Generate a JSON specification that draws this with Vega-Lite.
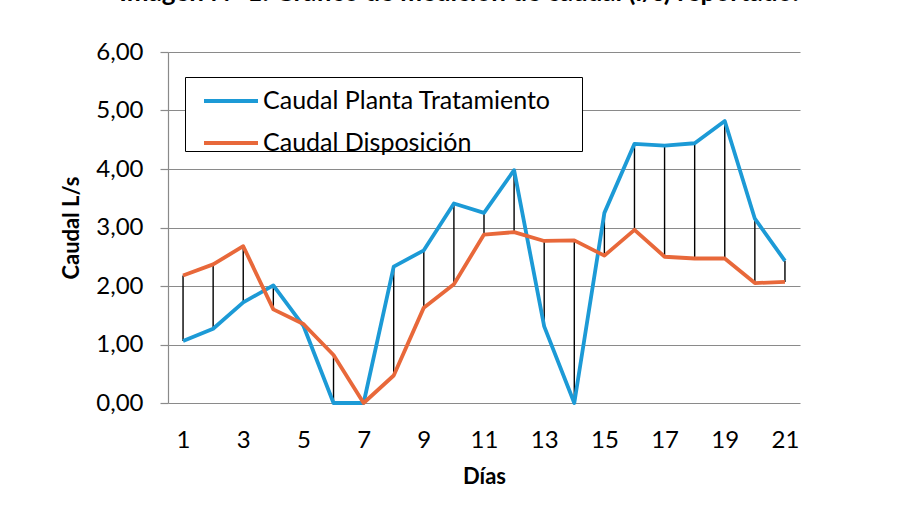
{
  "$schema": "https://vega.github.io/schema/vega-lite/v6.json",
  "width": 632,
  "height": 351,
  "autosize": {"type": "none"},
  "padding": {"left": 168, "top": 52, "right": 98, "bottom": 111},
  "background": "white",
  "title": {
    "text": "Imagen N° 1. Gráfico de medición de caudal (l/s) reportado.",
    "font": "Lato",
    "fontSize": 26,
    "fontWeight": "bold",
    "color": "black",
    "baseline": "alphabetic",
    "offset": 13,
    "dx": -25,
    "anchor": "middle"
  },
  "data": {
    "values": [
      {"dia": 1, "planta": 1.06, "disposicion": 2.18},
      {"dia": 2, "planta": 1.27, "disposicion": 2.37},
      {"dia": 3, "planta": 1.72, "disposicion": 2.68},
      {"dia": 4, "planta": 2.01, "disposicion": 1.6},
      {"dia": 5, "planta": 1.32, "disposicion": 1.35},
      {"dia": 6, "planta": 0, "disposicion": 0.82},
      {"dia": 7, "planta": 0, "disposicion": 0},
      {"dia": 8, "planta": 2.33, "disposicion": 0.47},
      {"dia": 9, "planta": 2.61, "disposicion": 1.63},
      {"dia": 10, "planta": 3.41, "disposicion": 2.03},
      {"dia": 11, "planta": 3.25, "disposicion": 2.88},
      {"dia": 12, "planta": 3.98, "disposicion": 2.92},
      {"dia": 13, "planta": 1.31, "disposicion": 2.77},
      {"dia": 14, "planta": 0, "disposicion": 2.78},
      {"dia": 15, "planta": 3.25, "disposicion": 2.52},
      {"dia": 16, "planta": 4.43, "disposicion": 2.96},
      {"dia": 17, "planta": 4.4, "disposicion": 2.5},
      {"dia": 18, "planta": 4.44, "disposicion": 2.47},
      {"dia": 19, "planta": 4.82, "disposicion": 2.47},
      {"dia": 20, "planta": 3.15, "disposicion": 2.05},
      {"dia": 21, "planta": 2.43, "disposicion": 2.07}
    ]
  },
  "encoding": {
    "x": {
      "field": "dia",
      "type": "quantitative",
      "scale": {"domain": [0.5, 21.5], "nice": false, "zero": false},
      "axis": {
        "title": "Días",
        "values": [1, 3, 5, 7, 9, 11, 13, 15, 17, 19, 21],
        "grid": false,
        "ticks": false,
        "tickSize": 0,
        "domain": false,
        "labelPadding": 25,
        "labelFont": "Lato",
        "labelFontSize": 24,
        "labelColor": "black",
        "labelFlush": false,
        "labelOverlap": false,
        "titleFont": "Lato",
        "titleFontSize": 22,
        "titleFontWeight": "bold",
        "titleColor": "black",
        "titlePadding": 14
      }
    }
  },
  "layer": [
    {
      "mark": {"type": "rule", "color": "black", "strokeWidth": 1.4},
      "encoding": {
        "y": {
          "field": "disposicion",
          "type": "quantitative",
          "scale": {"domain": [0, 6], "nice": false},
          "axis": {
            "title": "Caudal L/s",
            "values": [0, 1, 2, 3, 4, 5, 6],
            "labelExpr": "replace(format(datum.value, '.2f'), '.', ',')",
            "grid": true,
            "gridColor": "#8a8a8a",
            "gridWidth": 1.2,
            "domain": true,
            "domainColor": "#8a8a8a",
            "domainWidth": 1.2,
            "ticks": true,
            "tickSize": 8,
            "tickColor": "#8a8a8a",
            "tickWidth": 1.2,
            "labelPadding": 17,
            "labelFont": "Lato",
            "labelFontSize": 24,
            "labelColor": "black",
            "labelFlush": false,
            "titleFont": "Lato",
            "titleFontSize": 22,
            "titleFontWeight": "bold",
            "titleColor": "black",
            "titlePadding": 12
          }
        },
        "y2": {"field": "planta"}
      }
    },
    {
      "transform": [{"fold": ["planta", "disposicion"], "as": ["serie", "valor"]}],
      "mark": {"type": "line", "strokeWidth": 3.8, "strokeJoin": "round"},
      "encoding": {
        "y": {"field": "valor", "type": "quantitative"},
        "color": {
          "field": "serie",
          "type": "nominal",
          "scale": {"domain": ["planta", "disposicion"], "range": ["#1c9ad6", "#e8683a"]},
          "legend": {
            "title": null,
            "orient": "none",
            "legendX": 17,
            "legendY": 25,
            "direction": "vertical",
            "strokeColor": "black",
            "fillColor": "white",
            "padding": -5,
            "symbolOffset": 22,
            "symbolType": "stroke",
            "symbolSize": 2916,
            "symbolStrokeWidth": 3.8,
            "labelFont": "Lato",
            "labelFontSize": 25,
            "labelColor": "black",
            "labelOffset": 3,
            "labelLimit": 450,
            "rowPadding": -17,
            "labelExpr": "datum.label == 'planta' ? 'Caudal Planta Tratamiento\u2800\u2800' : 'Caudal Disposición'"
          }
        }
      }
    }
  ],
  "config": {
    "view": {"stroke": null}
  }
}
